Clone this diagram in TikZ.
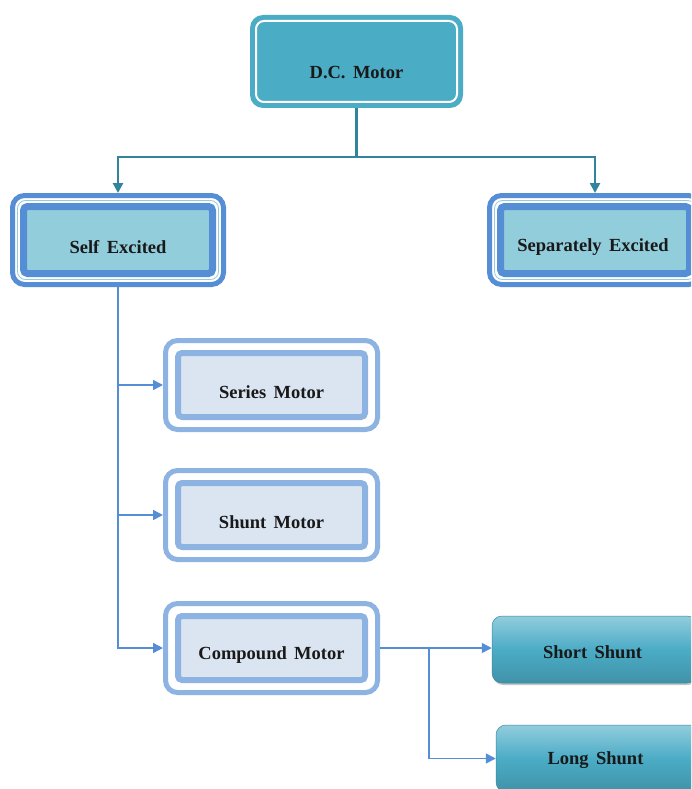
\documentclass[tikz,border=0pt]{standalone}
\usepackage{fontspec}
\setmainfont{Liberation Serif}[WordSpace=1.6]
\usetikzlibrary{shadows,arrows.meta}
\definecolor{tealfill}{HTML}{4BACC6}
\definecolor{tealline}{HTML}{31849B}
\definecolor{blueband}{HTML}{558ED5}
\definecolor{lightteal}{HTML}{92CDDC}
\definecolor{paleband}{HTML}{8DB3E2}
\definecolor{palefill}{HTML}{DBE5F1}
\tikzset{
  lbl/.style={font=\fontsize{18.5}{21}\selectfont\bfseries, text=black!90, inner sep=0pt},
  dcbox/.style={fill=tealfill, rounded corners=13pt, minimum width=213pt, minimum height=93pt, outer sep=0pt, inner sep=0pt},
  dcline/.style={draw=white, line width=2pt, rounded corners=8pt},
  bandbox/.style={draw=blueband, line width=5pt, fill=white, rounded corners=12pt, minimum width=211pt, minimum height=89pt, inner sep=0pt},
  bandthin/.style={draw=lightteal, line width=0.8pt, rounded corners=8pt},
  bandinner/.style={draw=blueband, line width=7pt, fill=lightteal, rounded corners=4pt},
  palebox/.style={draw=paleband, line width=5pt, fill=white, rounded corners=12pt, minimum width=212pt, minimum height=89pt, inner sep=0pt},
  paleinner/.style={draw=paleband, line width=6pt, fill=palefill, rounded corners=4pt},
  shuntbox/.style={top color=lightteal, bottom color=tealfill!85!black, middle color=tealfill, draw=tealfill!80!black, line width=0.5pt, rounded corners=10pt, minimum width=205pt, minimum height=67pt, inner sep=0pt, drop shadow={shadow xshift=1pt, shadow yshift=-2pt, opacity=0.45}},
  tarrow/.style={draw=tealline, line width=2.5pt, -{Triangle[length=10pt,width=10pt]}},
  barrow/.style={draw=blueband, line width=1.5pt, -{Triangle[length=10pt,width=10pt]}}
}
\begin{document}
\begin{tikzpicture}[x=1pt,y=-1pt]
\clip (0,0) rectangle (691,789);
\fill[white] (0,0) rectangle (691,789);
% D.C. Motor
\node[dcbox] (dc) at (356.5,61.5) {};
\draw[dcline] ([shift={(6,6)}]dc.north west) rectangle ([shift={(-6,-6)}]dc.south east);
\node[lbl] (dct) at ([shift={(0,11)}]dc.center) {D.C. Motor};
% Self Excited
\node[bandbox] (se) at (118,240) {};
\draw[bandthin] ([shift={(7.5,7.5)}]se.north west) rectangle ([shift={(-7.5,-7.5)}]se.south east);
\draw[bandinner] ([shift={(13.5,13.5)}]se.north west) rectangle ([shift={(-13.5,-13.5)}]se.south east);
\node[lbl] (set) at ([shift={(0,7)}]se.center) {Self Excited};
% Separately Excited
\node[bandbox] (sx) at (595,240) {};
\draw[bandthin] ([shift={(7.5,7.5)}]sx.north west) rectangle ([shift={(-7.5,-7.5)}]sx.south east);
\draw[bandinner] ([shift={(13.5,13.5)}]sx.north west) rectangle ([shift={(-13.5,-13.5)}]sx.south east);
\node[lbl] (sxt) at ([shift={(-2,7)}]sx.center) {Separately Excited};
% Series Motor
\node[palebox] (sm) at (271.5,385) {};
\draw[paleinner] ([shift={(15,15)}]sm.north west) rectangle ([shift={(-15,-15)}]sm.south east);
\node[lbl] (smt) at ([shift={(0,7)}]sm.center) {Series Motor};
% Shunt Motor
\node[palebox] (hm) at (271.5,515) {};
\draw[paleinner] ([shift={(15,15)}]hm.north west) rectangle ([shift={(-15,-15)}]hm.south east);
\node[lbl] (hmt) at ([shift={(0,7)}]hm.center) {Shunt Motor};
% Compound Motor
\node[palebox] (cm) at (271.5,648) {};
\draw[paleinner] ([shift={(15,15)}]cm.north west) rectangle ([shift={(-15,-15)}]cm.south east);
\node[lbl] (cmt) at ([shift={(0,7)}]cm.center) {Compound Motor};
% Short / Long Shunt
\node[shuntbox] (ss) at (594.5,649.5) {};
\node[lbl] (sst) at ([shift={(-2,3)}]ss.center) {Short Shunt};
\node[shuntbox] (ls) at (598.5,758.5) {};
\node[lbl] (lst) at ([shift={(-3,2)}]ls.center) {Long Shunt};
% connectors
\coordinate (tj) at ([shift={(0,49)}]dc.south);
\draw[tarrow] (dc.south) -- (tj) -| (se.north);
\draw[tarrow] (tj) -| (sx.north);
\draw[barrow] (se.south) |- (sm.west);
\draw[barrow] (se.south) |- (hm.west);
\draw[barrow] (se.south) |- (cm.west);
\coordinate (br) at ([shift={(49,0)}]cm.east);
\draw[barrow] (cm.east) -- (br -| ss.west);
\draw[barrow] (br) |- (ls.west);
\end{tikzpicture}
\end{document}
